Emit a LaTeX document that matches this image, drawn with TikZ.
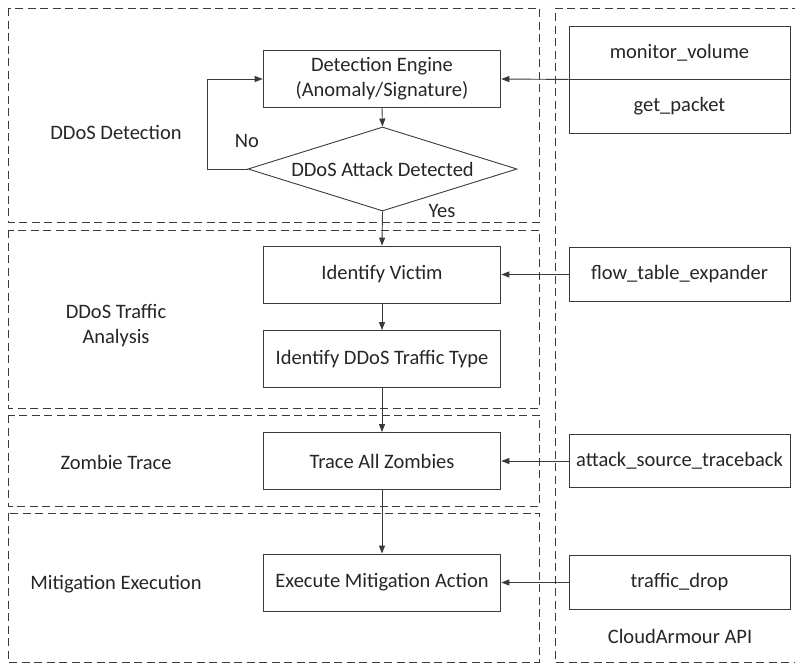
\documentclass[tikz,border=0pt]{standalone}
\usepackage{fontspec}
\setmainfont{Carlito}
\usetikzlibrary{arrows.meta,shapes.geometric}
\definecolor{ink}{HTML}{262626}
\definecolor{rule}{HTML}{3A3A3A}
\begin{document}
\begin{tikzpicture}[x=1pt,y=-1pt,
  font=\fontsize{20.5}{25}\selectfont, text=ink,
  frame/.style={draw=rule, line width=1pt, dash pattern=on 8pt off 4.5pt},
  stepbox/.style={draw=rule, line width=0.9pt, minimum width=237.7pt,
    minimum height=57pt, inner sep=0pt, align=center},
  apibox/.style={draw=rule, line width=0.9pt, minimum width=221pt,
    minimum height=53.5pt, inner sep=0pt},
  decision/.style={diamond, draw=rule, line width=0.9pt, aspect=2.62,
    minimum width=269pt, inner sep=0pt},
  arr/.style={draw=rule, line width=0.9pt, -{Triangle[length=8pt,width=6pt]}},
  lane/.style={align=center}
]
\useasboundingbox (0,0) rectangle (795,664);

% phase frames
\draw[frame] (8,8) rectangle (539,222);
\draw[frame] (8,230) rectangle (539,408);
\draw[frame] (8,415) rectangle (539,506);
\draw[frame] (8,513) rectangle (539,662);
% API column frame
\draw[frame] (800,8) -- (555,8) -- (555,662) -- (800,662);

% process steps
\node[stepbox] (de) at (382,79) {Detection Engine\\(Anomaly/Signature)};
\node[decision] (dia) at (382.5,169) {DDoS Attack Detected};
\node[stepbox] (iv) at (382,274.5) {Identify Victim};
\node[stepbox] (tt) at (382,359) {Identify DDoS Traffic Type};
\node[stepbox] (tz) at (382,461) {Trace All Zombies};
\node[stepbox] (me) at (382,582.5) {Execute Mitigation Action};

% API calls
\node[apibox, minimum height=53pt] (mv) at (679.5,52.5) {monitor\_volume};
\node[apibox, minimum height=54pt] (gp) at (679.5,106) {get\_packet};
\node[apibox] (fte) at (679.5,274.5) {flow\_table\_expander};
\node[apibox] (ast) at (679.5,461) {attack\_source\_traceback};
\node[apibox] (td) at (679.5,582.5) {traffic\_drop};

% phase labels
\node (l1) at (116,132) {DDoS Detection};
\node[lane] (l2) at (116,326) {DDoS Traffic\\Analysis};
\node (l3) at (116,462) {Zombie Trace};
\node (l4) at (116,584) {Mitigation Execution};
\node (l5) at (680,636) {CloudArmour API};
\node (no) at (247,141) {No};
\node (yes) at (442,211) {Yes};

% flow
\draw[arr] (de.south) -- (dia.north);
\draw[arr] (dia.west) -- ++(-40,0) |- (de.west);
\draw[arr] (dia.south) -- (iv.north);
\draw[arr] (iv.south) -- (tt.north);
\draw[arr] (tt.south) -- (tz.north);
\draw[arr] (tz.south) -- (me.north);

% API inputs
\draw[arr] (mv.south west) -- (de.east);
\draw[arr] (fte.west) -- (iv.east);
\draw[arr] (ast.west) -- (tz.east);
\draw[arr] (td.west) -- (me.east);
\end{tikzpicture}
\end{document}
